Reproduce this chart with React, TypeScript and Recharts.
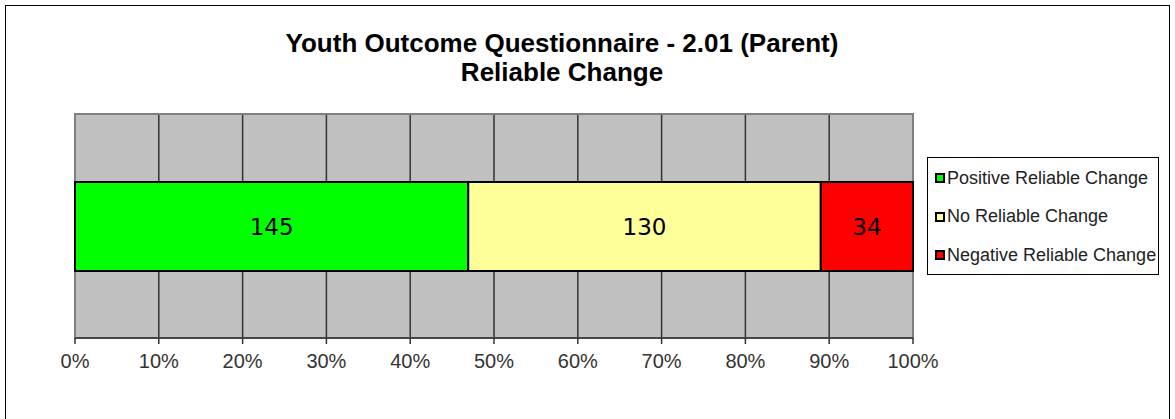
import React from "react";
import {
  BarChart,
  Bar,
  XAxis,
  YAxis,
  CartesianGrid,
  ReferenceArea,
  LabelList,
} from "recharts";

const categories = ["YOQ 2.01 (Parent)"];
const positiveChange = [145];
const noChange = [130];
const negativeChange = [34];
const percentTicks = [0, 0.1, 0.2, 0.3, 0.4, 0.5, 0.6, 0.7, 0.8, 0.9, 1];

const seriesInfo = [
  { key: "positive", name: "Positive Reliable Change", color: "#00FF00" },
  { key: "none", name: "No Reliable Change", color: "#FFFF99" },
  { key: "negative", name: "Negative Reliable Change", color: "#FF0000" },
];

const chartData = categories.map((cat, i) => ({
  cat,
  positive: positiveChange[i],
  none: noChange[i],
  negative: negativeChange[i],
}));

const font = "'Liberation Sans', Arial, sans-serif";

function LegendBox() {
  return (
    <div
      style={{
        position: "absolute",
        left: 927,
        top: 157,
        width: 232,
        height: 118,
        border: "1px solid #000",
        background: "#fff",
        fontFamily: font,
        fontSize: 18,
        color: "#222",
        boxSizing: "border-box",
        paddingTop: 1,
        whiteSpace: "nowrap",
      }}
    >
      {seriesInfo.map((s) => (
        <div
          key={s.key}
          style={{ display: "flex", alignItems: "center", height: 38.5 }}
        >
          <span
            style={{
              display: "inline-block",
              width: 6,
              height: 6,
              border: "2px solid #000",
              background: s.color,
              marginLeft: 7,
              marginRight: 2,
            }}
          />
          <span>{s.name}</span>
        </div>
      ))}
    </div>
  );
}

export default function App() {
  return (
    <div
      style={{
        position: "absolute",
        left: 0,
        top: 0,
        width: 1175,
        height: 419,
        background: "#fff",
        overflow: "hidden",
      }}
    >
      <div
        style={{
          position: "absolute",
          left: 5,
          top: 5,
          width: 1165,
          height: 440,
          border: "1.5px solid #000",
          boxSizing: "border-box",
        }}
      />
      <div
        style={{
          position: "absolute",
          left: 0,
          width: 1124,
          top: 29,
          textAlign: "center",
          fontFamily: font,
          fontWeight: "bold",
          fontSize: 26,
          lineHeight: "29px",
          color: "#000",
        }}
      >
        <div>Youth Outcome Questionnaire - 2.01 (Parent)</div>
        <div>Reliable Change</div>
      </div>
      <BarChart
        width={1175}
        height={419}
        data={chartData}
        layout="vertical"
        stackOffset="expand"
        barSize={89}
        margin={{ top: 114, right: 262, left: 75, bottom: 51 }}
        style={{ position: "absolute", left: 0, top: 0 }}
      >
        <CartesianGrid
          horizontal={false}
          vertical
          stroke="#333"
          strokeWidth={1.5}
          fill="#C0C0C0"
          fillOpacity={1}
        />
        <ReferenceArea
          x1={0}
          x2={1}
          fill="none"
          stroke="#808080"
          strokeWidth={2}
          ifOverflow="extendDomain"
        />
        <XAxis
          type="number"
          domain={[0, 1]}
          ticks={percentTicks}
          tickFormatter={(v: number) => `${Math.round(v * 100)}%`}
          height={30}
          stroke="#333"
          strokeWidth={1.5}
          tickSize={6}
          tickMargin={10}
          tick={{ fill: "#333", fontSize: 20, fontFamily: font }}
          interval={0}
        />
        <YAxis type="category" dataKey="cat" hide />
        {seriesInfo.map((s) => (
          <Bar
            key={s.key}
            dataKey={s.key}
            name={s.name}
            stackId="a"
            fill={s.color}
            stroke="#000"
            strokeWidth={2}
            isAnimationActive={false}
          >
            <LabelList
              dataKey={s.key}
              position="center"
              fill="#000"
              fontSize={23}
              fontFamily="'DejaVu Sans', sans-serif"
            />
          </Bar>
        ))}
      </BarChart>
      <LegendBox />
    </div>
  );
}
